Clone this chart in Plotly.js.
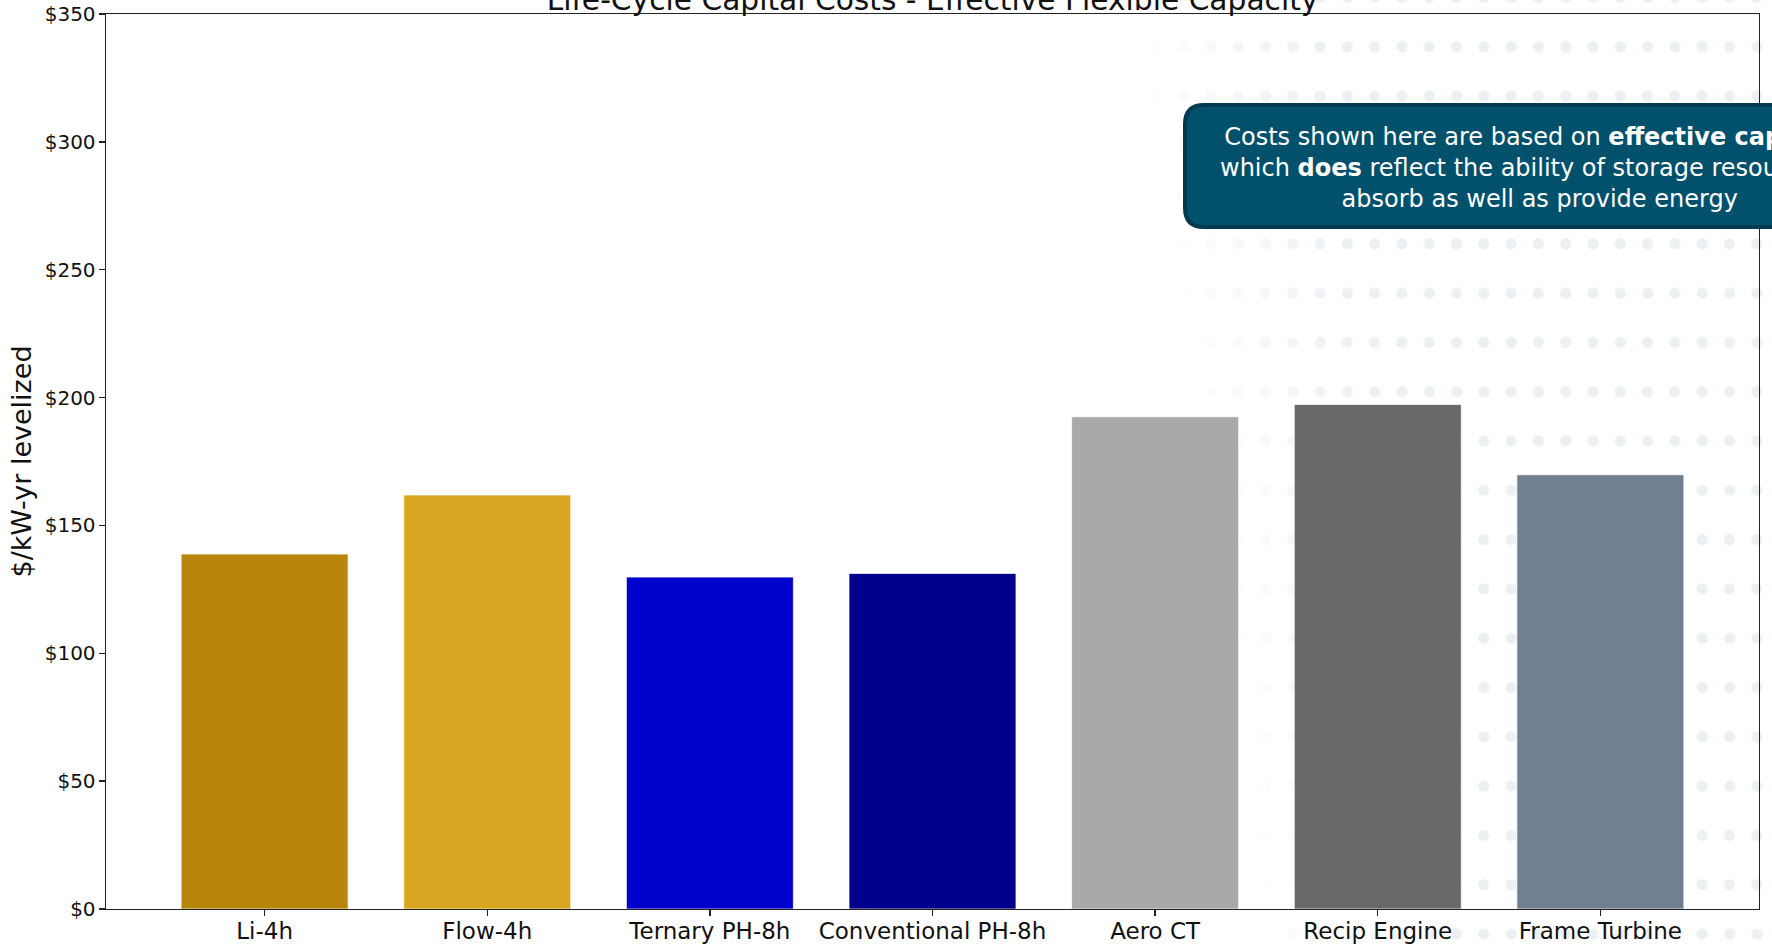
<!DOCTYPE html>
<html><head><meta charset="utf-8">
<script src="https://cdn.plot.ly/plotly-3.0.1.min.js"></script>
<style>
html,body{margin:0;padding:0;background:#fff;overflow:hidden}
#wrap{position:relative;width:1772px;height:947px}
#dots{position:absolute;left:0;top:0;width:1772px;height:947px;
 background-image:radial-gradient(circle, #ebf0f3 5px, rgba(235,240,243,0) 6px);
 background-size:27.3px 49.3px;background-position:23.45px -27.25px;
 -webkit-mask-image:linear-gradient(82deg, transparent 66%, #000 76%);
 mask-image:linear-gradient(82deg, transparent 66%, #000 76%);}
#chart{position:absolute;left:0;top:0;width:1772px;height:947px}
</style></head><body>
<div id="wrap"><div id="dots"></div><div id="chart"></div></div>
<script>
// ---- data ----
const categories = ['Li-4h', 'Flow-4h', 'Ternary PH-8h', 'Conventional PH-8h', 'Aero CT', 'Recip Engine', 'Frame Turbine'];
const values = [138.8, 161.9, 129.8, 131.2, 192.5, 197.3, 169.8];
const barColors = ['#b8860b', '#daa520', '#0000cd', '#00008b', '#a9a9a9', '#696969', '#708090'];
const yTickVals = [0, 50, 100, 150, 200, 250, 300, 350];
const yTickText = ['$0', '$50', '$100', '$150', '$200', '$250', '$300', '$350'];
const chartTitle = 'Life-Cycle Capital Costs - Effective Flexible Capacity';
const yTitle = '$/kW-yr levelized';
const noteText = 'Costs shown here are based on <b>effective capacity,</b><br>which <b>does</b> reflect the ability of storage resources to<br>absorb as well as provide energy';

// ---- layout geometry (pixels) ----
const W = 1772, H = 947;
const M = {l: 106, r: 13, t: 14, b: 38};
const PW = W - M.l - M.r, PH = H - M.t - M.b;
const px2x = p => (p - M.l) / PW;
const py2y = p => (H - M.b - p) / PH;

function roundRect(x0, y0, x1, y1, r) {
  const rx = r / PW, ry = r / PH;
  const X0 = px2x(x0), X1 = px2x(x1), Yt = py2y(y0), Yb = py2y(y1);
  return `M ${X0 + rx},${Yt} L ${X1 - rx},${Yt} Q ${X1},${Yt} ${X1},${Yt - ry} ` +
         `L ${X1},${Yb + ry} Q ${X1},${Yb} ${X1 - rx},${Yb} L ${X0 + rx},${Yb} ` +
         `Q ${X0},${Yb} ${X0},${Yb + ry} L ${X0},${Yt - ry} Q ${X0},${Yt} ${X0 + rx},${Yt} Z`;
}

const trace = {
  type: 'bar',
  x: categories,
  y: values,
  width: 0.75,
  marker: {color: barColors, line: {color: 'rgba(255,255,255,0.7)', width: 1}},
  hoverinfo: 'skip'
};

const axisCommon = {
  showline: true, mirror: true, linecolor: '#222', linewidth: 1.4,
  ticks: 'outside', ticklen: 6, tickwidth: 1.3, tickcolor: '#222',
  showgrid: false, zeroline: false
};

const layout = {
  width: W, height: H,
  margin: {l: M.l, r: M.r, t: M.t, b: M.b, pad: 0},
  paper_bgcolor: 'rgba(0,0,0,0)',
  plot_bgcolor: 'rgba(0,0,0,0)',
  font: {family: 'DejaVu Sans', color: '#111'},
  showlegend: false,
  title: {text: chartTitle, font: {size: 29.7, color: '#111'}, x: 0.5, xref: 'paper', xanchor: 'center',
          y: 1 - 9.5 / H, yref: 'container', yanchor: 'bottom'},
  xaxis: Object.assign({}, axisCommon, {
    type: 'category', range: [-0.7125, 6.7125],
    tickfont: {size: 23, color: '#111'}, ticklabelstandoff: -5
  }),
  yaxis: Object.assign({}, axisCommon, {
    range: [0, 350], tickmode: 'array', tickvals: yTickVals, ticktext: yTickText,
    tickfont: {size: 20, color: '#111'}, ticklabelstandoff: -1,
    title: {text: yTitle, font: {size: 27, color: '#111'}, standoff: 5}
  }),
  shapes: [{
    type: 'path', xref: 'paper', yref: 'paper', layer: 'above',
    path: roundRect(1185, 105, 1895, 227, 19),
    fillcolor: '#01506c', line: {color: '#023a50', width: 4}
  }],
  annotations: [{
    xref: 'paper', yref: 'paper', x: px2x(1539), y: py2y(168),
    xanchor: 'center', yanchor: 'middle', showarrow: false, align: 'center',
    text: noteText, font: {family: 'DejaVu Sans', size: 24, color: '#ffffff'}
  }]
};

Plotly.newPlot('chart', [trace], layout, {staticPlot: true, displayModeBar: false});
</script>
</body></html>
